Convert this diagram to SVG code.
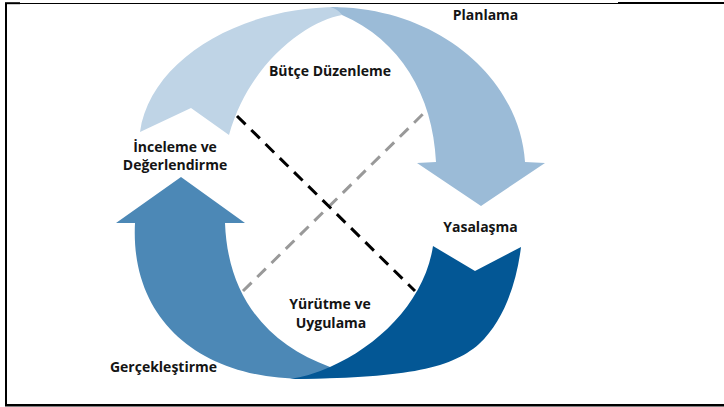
<svg xmlns="http://www.w3.org/2000/svg" width="724" height="407" viewBox="0 0 724 407">
<style>
.lbl{font-family:"Open Sans","DejaVu Sans",sans-serif;font-weight:700;font-size:14px;fill:#141414;text-anchor:middle}
.frame{stroke:#000;fill:none}
.dash{fill:none;stroke-width:3;stroke-dasharray:12 8}
</style>
<rect width="724" height="407" fill="#fff"/>
<g id="frame">
<line class="frame" x1="6" y1="3" x2="6" y2="405" stroke-width="2"/>
<line class="frame" x1="5" y1="405.3" x2="724" y2="405.3" stroke-width="2.6"/>
<line class="frame" x1="6" y1="3.5" x2="618" y2="3.5" stroke-width="1"/>
<line class="frame" x1="5" y1="3.2" x2="20" y2="3.2" stroke-width="2"/>
<line class="frame" x1="618" y1="3" x2="724" y2="3" stroke-width="2.2"/>
</g>
<g id="arrow-butce">
<path fill="#bfd4e6" d="M140,132 C150,60 240,7 338,7 L342,15 C310,20 250,60 229,135 L191,108 Z"/>
</g>
<g id="arrow-planlama">
<path fill="#9bbbd7" d="M330,7 C440,7 520,80 525,162 L545,163 L481,206 L417,163 L436,162 C433,95 400,40 342,15 Q338,9 330,7 Z"/>
</g>
<g id="arrow-gerceklestirme">
<path fill="#4c88b6" d="M135,223 C130,320 200,379 305,379 L330,378 L330,367 C270,345 228,300 225,223 L245,223 L181,177 L116,223 Z"/>
</g>
<g id="arrow-yasalasma">
<path fill="#035795" d="M290,379 Q310,376 330,367 C380,345 425,300 433,246 L475,271 L521,247 C517,280 505,320 479,344 C450,370 400,378 290,379 Z"/>
</g>
<g id="connectors">
<line class="dash" x1="243" y1="291" x2="424" y2="113" stroke="#999"/>
<line class="dash" x1="237" y1="116" x2="415" y2="291" stroke="#000"/>
</g>
<g id="labels">
<text class="lbl" x="485.5" y="20">Planlama</text>
<text class="lbl" x="330" y="76">Bütçe Düzenleme</text>
<text class="lbl" x="175" y="152">İnceleme ve</text>
<text class="lbl" x="175" y="170">Değerlendirme</text>
<text class="lbl" x="480.5" y="232">Yasalaşma</text>
<text class="lbl" x="330" y="309">Yürütme ve</text>
<text class="lbl" x="331" y="328">Uygulama</text>
<text class="lbl" x="163.5" y="372">Gerçekleştirme</text>
</g>
</svg>
